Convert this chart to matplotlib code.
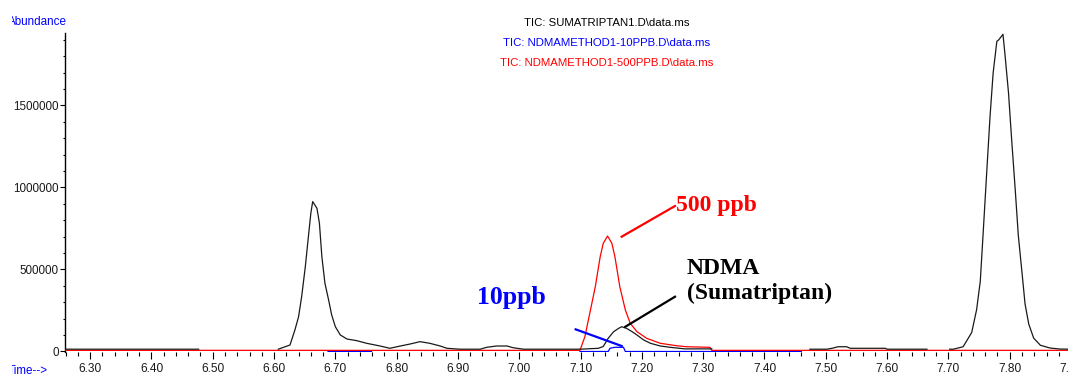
import numpy as np
import matplotlib
matplotlib.use("Agg")
import matplotlib.pyplot as plt
from matplotlib.ticker import MultipleLocator, FormatStrFormatter
from matplotlib.transforms import Bbox

plt.rcParams['font.family'] = ['Liberation Sans', 'DejaVu Sans']

nan = float('nan')

# TIC of the sumatriptan sample (gaps where the trace is not drawn)
sumatriptan_time = [6.259, 6.477, nan,
                    6.607, 6.626, 6.634, 6.640, 6.645, 6.651, 6.656, 6.660, 6.663,
                    6.670, 6.674, 6.678, 6.683, 6.689, 6.694, 6.700, 6.708, 6.719,
                    6.735, 6.751, 6.773, 6.789, 6.806, 6.822, 6.838, 6.854, 6.871,
                    6.882, 6.903, 6.936, 6.947, 6.963, 6.980, 6.990, 7.007, 7.099,
                    7.129, 7.137, 7.145, 7.154, 7.162, 7.167, 7.175, 7.184, 7.192,
                    7.203, 7.214, 7.230, 7.246, 7.270, 7.314, nan,
                    7.474, 7.502, 7.510, 7.520, 7.534, 7.540, 7.597, 7.600, 7.665, nan,
                    7.702, 7.708, 7.724, 7.738, 7.746, 7.752, 7.757, 7.763, 7.768,
                    7.773, 7.779, 7.782, 7.789, 7.792, 7.798, 7.803, 7.809, 7.814,
                    7.820, 7.825, 7.831, 7.839, 7.850, 7.866, 7.882, 7.901, 7.944]
sumatriptan_abund = [14000, 14000, nan,
                     14000, 39600, 131000, 212000, 334000, 517000, 700000, 843000, 914000,
                     873000, 782000, 578000, 416000, 314000, 223000, 151000, 101000, 76000,
                     66000, 50000, 33500, 19500, 33500, 45700, 60000, 50000, 33500,
                     19500, 14000, 14000, 25600, 33500, 33500, 23000, 14000, 14000,
                     19500, 30500, 80500, 121000, 141000, 151000, 141000, 121000, 100600,
                     70000, 50000, 33500, 25600, 16000, 16000, nan,
                     14000, 14000, 19500, 29000, 29000, 19500, 19500, 14000, 14000, nan,
                     14000, 14000, 29000, 116000, 255000, 429000, 743000, 1126000, 1439000,
                     1700000, 1891000, 1900000, 1934000, 1822000, 1578000, 1300000, 986000, 708000,
                     482000, 290000, 168000, 82000, 38000, 21000, 15000, 14000, 14000]

# TIC of the 10 ppb NDMA standard
ppb10_time = [6.688, 6.759, nan, 7.099, 7.145, 7.148, 7.156, 7.170, 7.173, 7.460]
ppb10_abund = [0, 0, nan, 0, 0, 19500, 25600, 25600, 0, 0]

# TIC of the 500 ppb NDMA standard
ppb500_time = [6.259, 7.099, 7.107, 7.115, 7.124, 7.132, 7.137, 7.144, 7.151, 7.156,
               7.164, 7.173, 7.181, 7.192, 7.208, 7.230, 7.257, 7.273, 7.311, 7.314, 7.944]
ppb500_abund = [7000, 7000, 90000, 233000, 395000, 578000, 660000, 704000, 660000, 578000,
                395000, 253000, 172000, 121000, 80000, 50000, 35000, 29000, 25600, 7000, 7000]

file_titles = ["TIC: SUMATRIPTAN1.D\\data.ms",
               "TIC: NDMAMETHOD1-10PPB.D\\data.ms",
               "TIC: NDMAMETHOD1-500PPB.D\\data.ms"]
title_colors = ["black", "#0000ff", "#ff0000"]

W_PX, H_PX = 1068, 379
fig = plt.figure(figsize=(W_PX / 100, H_PX / 100), dpi=100)
fig.patch.set_facecolor("white")


def fx(px):
    return px / W_PX


def fy(py):
    return 1 - py / H_PX


left, right, bottom, top = 65, 1098, 352.3, 33
ax = fig.add_axes([fx(left), fy(bottom), fx(right - left), (bottom - top) / H_PX])
ax.set_xlim(6.259, 7.944)
ax.set_ylim(-4900, 1942000)

ax.plot(ppb10_time, ppb10_abund, color="#0000ff", lw=0.9, zorder=2)
ax.plot(ppb500_time, ppb500_abund, color="#ff0000", lw=0.9, zorder=3)
ax.plot(sumatriptan_time, sumatriptan_abund, color="#1a1a1a", lw=0.9, zorder=4)

for s in ("top", "right", "bottom"):
    ax.spines[s].set_visible(False)
ax.spines["left"].set_linewidth(1.0)
ax.spines["left"].set_color("black")

ax.xaxis.set_major_locator(MultipleLocator(0.1))
ax.xaxis.set_minor_locator(MultipleLocator(0.02))
ax.xaxis.set_major_formatter(FormatStrFormatter("%.2f"))
ax.yaxis.set_major_locator(MultipleLocator(500000))
ax.yaxis.set_minor_locator(MultipleLocator(100000))
ax.yaxis.set_major_formatter(FormatStrFormatter("%d"))

ax.tick_params(axis="x", which="major", direction="out", length=4.8, width=0.8,
               labelsize=8.6, pad=3.2, colors="black", labelcolor="#1a1a1a")
ax.tick_params(axis="x", which="minor", direction="out", length=3.0, width=0.8, colors="black")
ax.tick_params(axis="y", which="major", direction="out", length=3.6, width=0.8,
               labelsize=8.4, pad=0.8, colors="black", labelcolor="#1a1a1a")
ax.tick_params(axis="y", which="minor", direction="out", length=1.8, width=0.8, colors="black")

# sample file names
for i, (t, c) in enumerate(zip(file_titles, title_colors)):
    fig.text(fx(607), fy(22.5 + 20.5 * i), t, color=c, fontsize=8.2, ha="center", va="center")

# axis captions, clipped at the left border of the window
clip = Bbox.from_extents(12, 0, 300, H_PX)
t1 = fig.text(fx(8), fy(22), "Abundance", color="#0000ff", fontsize=8.4, ha="left", va="center")
t2 = fig.text(fx(8), fy(370.5), "Time-->", color="#0000ff", fontsize=8.4, ha="left", va="center")
for t in (t1, t2):
    t.set_clip_on(True)
    t.set_clip_box(clip)

# peak annotations
serif = ["Liberation Serif", "DejaVu Serif"]
ax.plot([7.167, 7.254], [700000, 887000], color="#ff0000", lw=1.6, zorder=5)
ax.text(7.256, 893000, "500 ppb", color="#ff0000", fontsize=17, fontweight="bold",
        family=serif, ha="left", va="center")

ax.plot([7.173, 7.254], [151000, 334000], color="black", lw=1.6, zorder=5)
ax.text(7.273, 430000, "NDMA\n(Sumatriptan)", color="black", fontsize=17, fontweight="bold",
        family=serif, ha="left", va="center", linespacing=1.2)

ax.plot([7.092, 7.167], [135000, 33500], color="#0000ff", lw=1.6, zorder=5)
ax.text(6.931, 332000, "10ppb", color="#0000ff", fontsize=18.5, fontweight="bold",
        family=serif, ha="left", va="center")

fig.savefig("out.png", dpi=100)
